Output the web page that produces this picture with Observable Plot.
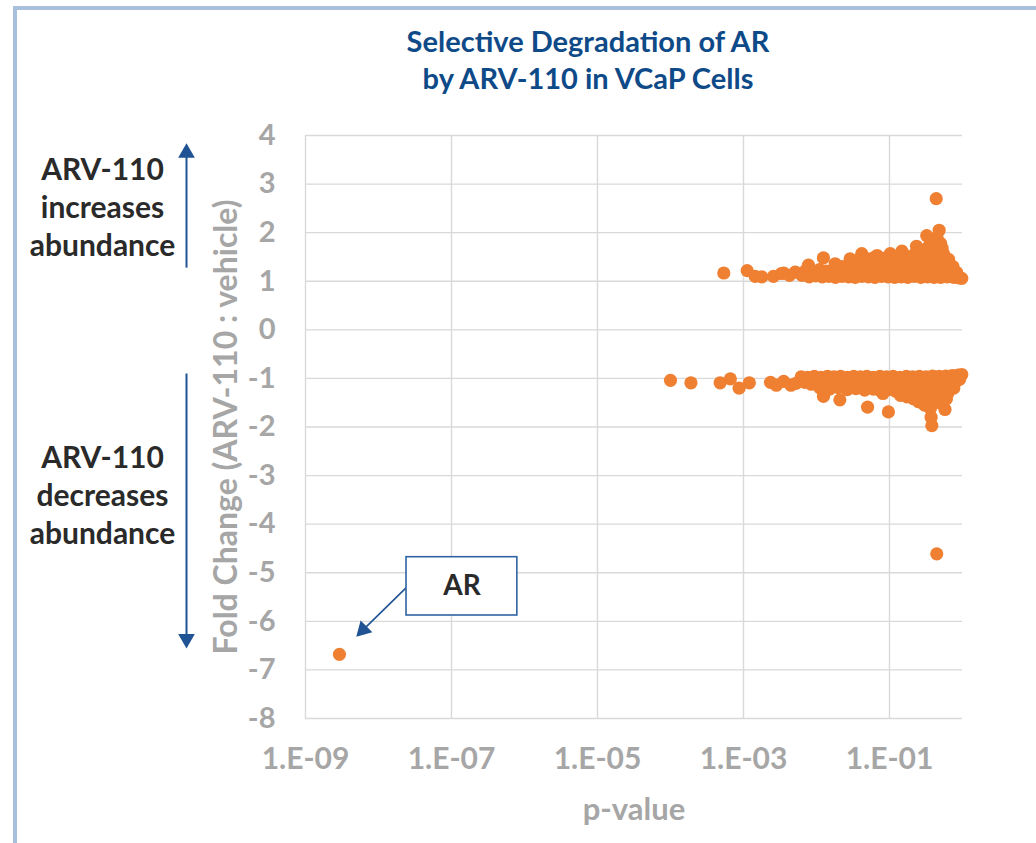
<!DOCTYPE html>
<html>
<head>
<meta charset="utf-8">
<script src="https://cdn.jsdelivr.net/npm/d3@7"></script>
<script src="https://cdn.jsdelivr.net/npm/@observablehq/plot@0.6"></script>
<style>
  html, body { margin: 0; padding: 0; background: #fff; }
  #wrap { position: relative; width: 1036px; height: 843px; overflow: hidden; background: #fff; font-family: Lato, "Open Sans", sans-serif; }
  #border { position: absolute; left: 13px; top: 6px; width: 1200px; height: 1000px; border-left: 4px solid #a9c0dc; border-top: 4px solid #a9c0dc; }
  #title { position: absolute; left: 288px; top: 22px; width: 600px; text-align: center; color: #0f4a88; font-weight: bold; font-size: 29px; line-height: 37px; }
  #chart { position: absolute; left: 0; top: 110px; }
</style>
</head>
<body>
<div id="wrap">
  <div id="border"></div>
  <div id="title">Selective Degradation of AR<br>by ARV-110 in VCaP Cells</div>
  <div id="chart"></div>
</div>
<script>
// ---- Data: [log10(p-value), fold change] ----
const upRegulated = [
  [-3.27,1.17],[-2.95,1.22],[-2.84,1.10],[-2.75,1.09],[-2.59,1.10],[-2.48,1.16],[-2.45,1.17],[-2.37,1.12],[-2.29,1.19],
  [-2.20,1.12],[-2.10,1.09],[-2.01,1.11],[-1.92,1.09],[-1.83,1.10],[-1.74,1.08],[-1.65,1.10],[-1.56,1.09],[-1.47,1.08],
  [-1.38,1.10],[-1.29,1.09],[-1.20,1.08],[-1.11,1.10],[-1.02,1.09],[-0.93,1.08],[-0.84,1.09],[-0.75,1.08],[-0.66,1.10],
  [-0.57,1.08],[-0.48,1.09],[-0.39,1.08],[-0.30,1.08],[-0.21,1.09],[-0.12,1.08],[-0.05,1.07],[-0.01,1.06],
  [-2.15,1.22],[-2.05,1.20],[-1.96,1.24],[-1.87,1.21],[-1.78,1.23],[-1.69,1.20],[-1.60,1.24],[-1.51,1.21],[-1.42,1.23],
  [-1.33,1.20],[-1.24,1.24],[-1.15,1.21],[-1.06,1.23],[-0.97,1.20],[-0.88,1.24],[-0.79,1.21],[-0.70,1.23],[-0.61,1.20],
  [-0.52,1.24],[-0.43,1.21],[-0.34,1.23],[-0.25,1.20],[-0.16,1.22],[-0.08,1.18],
  [-2.11,1.33],[-1.905,1.48],[-1.745,1.36],[-1.65,1.30],[-1.54,1.46],[-1.47,1.33],[-1.38,1.57],[-1.29,1.35],[-1.20,1.37],
  [-1.11,1.34],[-1.02,1.37],[-0.93,1.34],[-0.84,1.37],[-0.75,1.34],[-0.66,1.37],[-0.57,1.34],[-0.48,1.37],[-0.39,1.34],
  [-0.30,1.37],[-0.21,1.34],[-0.13,1.30],
  [-1.45,1.42],[-1.30,1.46],[-1.22,1.48],[-1.17,1.53],[-1.08,1.47],[-0.99,1.57],[-0.91,1.48],[-0.83,1.62],[-0.74,1.50],
  [-0.66,1.55],[-0.58,1.50],[-0.50,1.52],[-0.42,1.50],[-0.34,1.55],[-0.26,1.57],[-0.19,1.45],
  [-0.63,1.72],[-0.55,1.62],[-0.49,1.94],[-0.47,1.70],[-0.44,1.82],[-0.40,1.65],[-0.38,1.77],[-0.35,1.90],[-0.32,2.05],
  [-0.30,1.78],[-0.28,1.68],[-0.36,2.70]
];
const downRegulated = [
  [-4.00,-1.04],[-3.72,-1.09],[-3.32,-1.09],[-3.18,-1.01],[-3.06,-1.20],[-2.92,-1.09],[-2.63,-1.08],[-2.55,-1.14],
  [-2.45,-1.06],[-2.35,-1.14],[-2.21,-0.97],
  [-2.12,-0.98],[-2.03,-0.96],[-1.94,-0.98],[-1.85,-0.96],[-1.76,-0.97],[-1.67,-0.96],[-1.58,-0.98],[-1.49,-0.96],
  [-1.40,-0.97],[-1.31,-0.96],[-1.22,-0.98],[-1.13,-0.96],[-1.04,-0.97],[-0.95,-0.96],[-0.86,-0.98],[-0.77,-0.96],
  [-0.68,-0.97],[-0.59,-0.96],[-0.50,-0.97],[-0.41,-0.95],[-0.32,-0.96],[-0.23,-0.95],[-0.14,-0.94],[-0.06,-0.93],[-0.01,-0.92],
  [-2.28,-1.10],[-2.16,-1.08],[-2.07,-1.12],[-1.98,-1.09],[-1.89,-1.12],[-1.80,-1.09],[-1.71,-1.12],[-1.62,-1.09],
  [-1.53,-1.12],[-1.44,-1.09],[-1.35,-1.12],[-1.26,-1.09],[-1.17,-1.12],[-1.08,-1.09],[-0.99,-1.12],[-0.90,-1.09],
  [-0.81,-1.12],[-0.72,-1.09],[-0.63,-1.12],[-0.54,-1.09],[-0.45,-1.12],[-0.36,-1.09],[-0.27,-1.12],[-0.18,-1.09],
  [-0.10,-1.08],[-0.04,-1.02],
  [-1.95,-1.20],[-1.82,-1.22],[-1.70,-1.19],[-1.58,-1.23],[-1.46,-1.21],[-1.34,-1.24],[-1.22,-1.22],[-1.12,-1.26],
  [-1.02,-1.23],[-0.92,-1.26],[-0.83,-1.24],[-0.74,-1.28],[-0.65,-1.25],[-0.56,-1.28],[-0.47,-1.25],[-0.38,-1.28],
  [-0.29,-1.25],[-0.20,-1.24],[-0.12,-1.20],
  [-0.85,-1.35],[-0.76,-1.38],[-0.67,-1.42],[-0.58,-1.38],[-0.50,-1.44],[-0.42,-1.40],[-0.33,-1.38],[-0.25,-1.36],[-0.20,-1.30],
  [-0.60,-1.48],[-0.52,-1.55],[-0.45,-1.52],[-0.38,-1.50],[-0.44,-1.62],[-0.30,-1.50],
  [-1.905,-1.37],[-1.68,-1.44],[-1.30,-1.59],[-1.09,-1.31],[-1.015,-1.69],[-0.43,-1.80],[-0.42,-1.97],[-0.24,-1.64],[-0.22,-1.42]
];
const otherPoints = [[-0.353,-4.61]];
const arPoint = [[-8.535,-6.68]];

const xTickValues = [1e-9, 1e-7, 1e-5, 1e-3, 1e-1];
const yTickValues = [-8,-7,-6,-5,-4,-3,-2,-1,0,1,2,3,4];

const xLabel = "p-value";
const yLabel = "Fold Change (ARV-110 : vehicle)";
const upNote = "ARV-110\nincreases\nabundance";
const downNote = "ARV-110\ndecreases\nabundance";
const calloutText = "AR";

// ---- Annotation geometry (data coordinates) ----
const upArrow = {y1: 1.28, y2: 3.64};
const downArrow = {y1: -0.90, y2: -6.36};
const callout = {x1: 2.42e-8, x2: 7.98e-7, y1: -4.68, y2: -5.88, tx: 1.39e-7, ty: -5.28};
const calloutArrow = {x1: 2.42e-8, y1: -5.30, x2: 6.15e-9, y2: -6.175};

const toRows = arr => arr.map(([lp, fc]) => ({p: Math.pow(10, lp), fc}));
const up = toRows(upRegulated), down = toRows(downRegulated), other = toRows(otherPoints), ar = toRows(arPoint);

const orange = "#ef7f31";
const navy = "#1f5394";
const gray = "#a6a6a6";
const fmtX = d => { const e = Math.round(Math.log10(d)); return "1.E" + (e < 0 ? "-" : "+") + String(Math.abs(e)).padStart(2, "0"); };

const chart = Plot.plot({
  width: 1036, height: 733,
  marginLeft: 305, marginRight: 74, marginTop: 25, marginBottom: 125,
  style: {background: "transparent", fontFamily: "Lato, 'Open Sans', sans-serif", overflow: "visible"},
  x: {type: "log", domain: [1e-9, 1], label: null},
  y: {domain: [-8, 4], label: null},
  marks: [
    Plot.gridY(yTickValues, {stroke: "#d9d9d9", strokeOpacity: 1, strokeWidth: 1.4}),
    Plot.gridX(xTickValues, {stroke: "#d9d9d9", strokeOpacity: 1, strokeWidth: 1.4}),
    Plot.axisX(xTickValues, {tickSize: 0, tickPadding: 29, tickFormat: fmtX, fontSize: 30, fontWeight: "bold", fill: gray, label: null}),
    Plot.axisY(yTickValues, {tickSize: 0, tickPadding: 30, tickFormat: d => String(d), fontSize: 29, fontWeight: "bold", fill: gray, label: null}),
    Plot.text([yLabel], {text: d => d, frameAnchor: "left", textAnchor: "middle", lineAnchor: "middle", dx: -79, rotate: -90, fontSize: 32, fontWeight: "bold", fill: gray}),
    Plot.text([xLabel], {text: d => d, frameAnchor: "bottom", textAnchor: "middle", lineAnchor: "middle", dy: 92, fontSize: 31, fontWeight: "bold", fill: gray}),
    Plot.dot([...up, ...down, ...other, ...ar], {x: "p", y: "fc", r: 6.6, fill: orange}),
    // left side notes and arrows
    Plot.text([{y: 2.56, t: upNote}, {y: -3.37, t: downNote}], {x: 1e-9, y: "y", text: "t", dx: -203, fontSize: 30, lineHeight: 1.27, fontWeight: "bold", fill: "#2a2a2a"}),
    Plot.link([upArrow, downArrow], {x1: 1e-9, x2: 1e-9, y1: "y1", y2: "y2", dx: -119, stroke: navy, strokeWidth: 2}),
    Plot.dot([{y: upArrow.y2, rot: 0}, {y: downArrow.y2, rot: 180}], {x: 1e-9, y: "y", dx: -119, symbol: "triangle", r: 6.2, rotate: "rot", fill: navy, stroke: "none"}),
    // AR callout
    Plot.link([calloutArrow], {x1: "x1", y1: "y1", x2: "x2", y2: "y2", stroke: navy, strokeWidth: 1.6}),
    Plot.dot([calloutArrow], {x: "x2", y: "y2", symbol: "triangle", r: 6.2, rotate: 225, fill: navy, stroke: "none"}),
    Plot.rect([callout], {x1: "x1", x2: "x2", y1: "y1", y2: "y2", fill: "white", stroke: "#2f64a3", strokeWidth: 1.6}),
    Plot.text([callout], {x: "tx", y: "ty", text: () => calloutText, fontSize: 28, fontWeight: "bold", fill: "#2a2a2a"})
  ]
});
document.getElementById("chart").appendChild(chart);
</script>
</body>
</html>
